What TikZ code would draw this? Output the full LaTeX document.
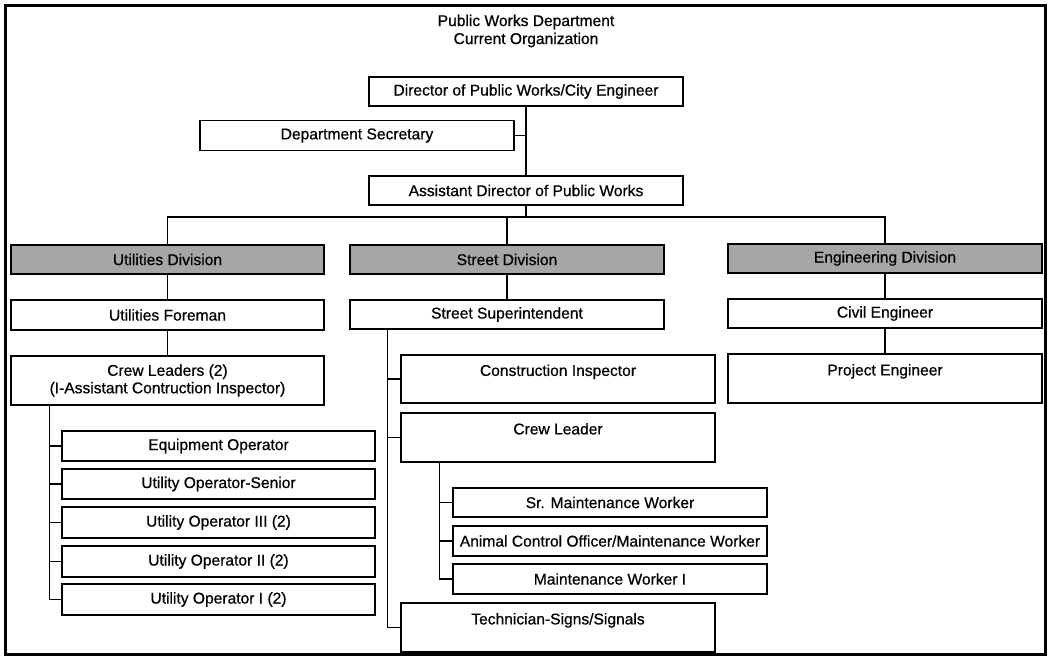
\documentclass[tikz,border=0pt]{standalone}
\usepackage{fontspec}
\setmainfont[BoldFont={Liberation Sans},BoldFeatures={FakeBold=0.6}]{Liberation Sans}
\usetikzlibrary{calc}
\begin{document}
\begin{tikzpicture}[x=1pt,y=-1pt,
  box/.style={draw=black,line width=1.5pt,fill=white,minimum width=314pt,minimum height=29pt,inner sep=0pt,
    font=\bfseries\fontsize{15.6}{17.5}\selectfont,align=center,anchor=center},
  tall/.style={box,minimum height=49pt},
  div/.style={box,fill=black!35},
  conn/.style={draw=black,line width=1.1pt},
  frame/.style={draw=black,line width=3pt},
  ttl/.style={font=\bfseries\fontsize{15.6}{18}\selectfont,align=center,inner sep=0pt}]
\useasboundingbox (0,0) rectangle (1050,657);
\draw[frame] (5,5) rectangle (1045,654);
\node[ttl] (title) at (526,31) {Public Works Department\\Current Organization};

\node[box] (dir) at (526,91.5) {Director of Public Works/City Engineer};
\node[box,minimum height=30pt] (sec) at (357,135.5) {Department Secretary};
\node[box] (asst) at (526,190.5) {Assistant Director of Public Works};

\node[div,minimum width=313pt] (udiv) at (167.5,259.5) {Utilities Division};
\node[div] (sdiv) at (507,259.5) {Street Division};
\node[div] (ediv) at (885,258.5) {Engineering Division};

\node[box,minimum width=313pt,minimum height=30pt] (uf) at (167.5,315) {Utilities Foreman};
\node[box] (ss) at (507,314.5) {Street Superintendent};
\node[box] (ce) at (885,313.5) {Civil Engineer};

\node[tall,minimum width=313pt] (cls) at (167.5,380.5) {Crew Leaders (2)\\(I-Assistant Contruction Inspector)};
\node[tall] (pe) at (885,378.5) {Project Engineer\\\mbox{}};
\node[tall,minimum height=48pt] (ci) at (558,379) {Construction Inspector\\\mbox{}};
\node[tall] (cl) at (558,437.5) {Crew Leader\\\mbox{}};
\node[tall] (tech) at (558,627.5) {Technician-Signs/Signals\\\mbox{}};

\node[box] (srm) at (610,502.5) {Sr. Maintenance Worker};
\node[box,minimum height=30pt] (acm) at (610,541) {Animal Control Officer/Maintenance Worker};
\node[box,minimum height=30pt] (mw) at (610,579) {Maintenance Worker I};

\node[box,minimum width=313pt,minimum height=30pt] (eo) at (218.5,446) {Equipment Operator};
\node[box,minimum width=313pt,minimum height=30pt] (uos) at (218.5,484) {Utility Operator-Senior};
\node[box,minimum width=313pt,minimum height=31pt] (uo3) at (218.5,522.5) {Utility Operator III (2)};
\node[box,minimum width=313pt,minimum height=31pt] (uo2) at (218.5,561.5) {Utility Operator II (2)};
\node[box,minimum width=313pt,minimum height=31pt] (uo1) at (218.5,599.5) {Utility Operator I (2)};

% connectors
\coordinate (bus) at (0,217);
\draw[conn] (dir.south) -- (asst.north);
\draw[conn] (sec.east) -- (sec.east -| dir.south);
\draw[conn] (asst.south) -- (asst.south |- bus);
\draw[conn] (udiv.north) |- (bus -| ediv.north) -- (ediv.north);
\draw[conn] (sdiv.north) -- (sdiv.north |- bus);

\draw[conn] (udiv.south) -- (uf.north);
\draw[conn] (uf.south) -- (cls.north);
\draw[conn] (sdiv.south) -- (ss.north);
\draw[conn] (ediv.south) -- (ce.north);
\draw[conn] (ce.south) -- (pe.north);

\coordinate (uspine) at ($(cls.south west)+(39,0)$);
\foreach \n in {eo,uos,uo3,uo2,uo1} \draw[conn] (uspine) |- (\n.west);

\coordinate (sspine) at ($(ss.south west)+(38,0)$);
\foreach \n in {ci,cl,tech} \draw[conn] (sspine) |- (\n.west);

\coordinate (cspine) at ($(cl.south west)+(39,0)$);
\foreach \n in {srm,acm,mw} \draw[conn] (cspine) |- (\n.west);
\end{tikzpicture}
\end{document}
